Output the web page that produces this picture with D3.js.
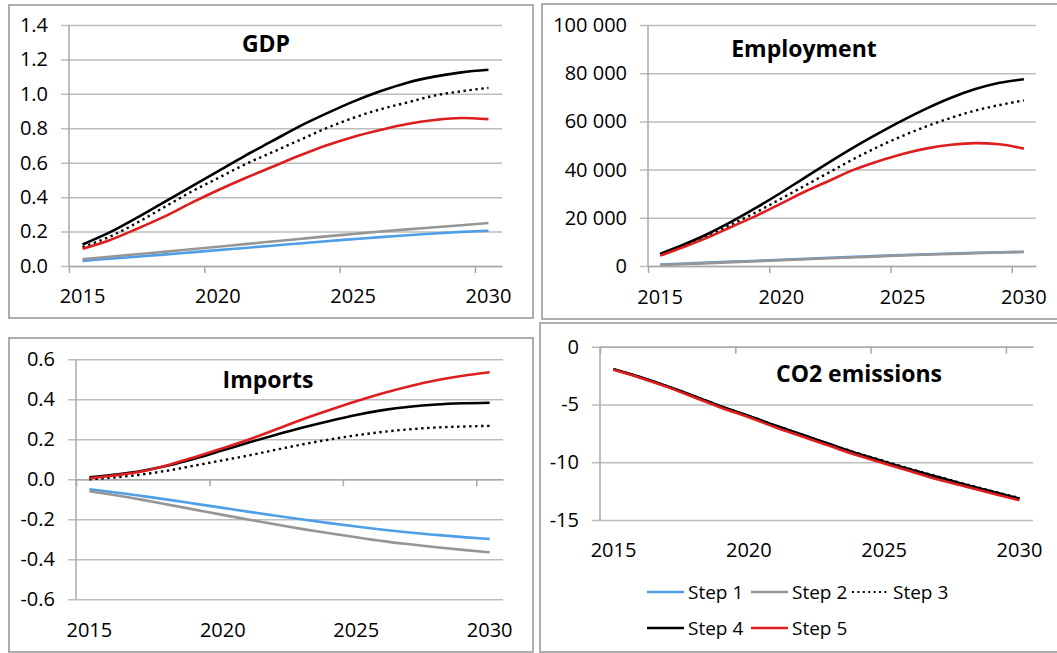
<!DOCTYPE html>
<html>
<head>
<meta charset="utf-8">
<script src="https://cdn.jsdelivr.net/npm/d3@7"></script>
<style>
  body { margin: 0; background: #fff; }
  svg { display: block; font-family: "Open Sans", sans-serif; }
</style>
</head>
<body>
<svg id="chart" width="1057" height="653"></svg>
<script>
'use strict';

// Categories and labels.
const years = [2015, 2016, 2017, 2018, 2019, 2020, 2021, 2022, 2023, 2024, 2025, 2026, 2027, 2028, 2029, 2030];
const labelYears = [2015, 2020, 2025, 2030];
const stepNames = ['Step 1', 'Step 2', 'Step 3', 'Step 4', 'Step 5'];

// GDP, one array per step.
const gdpStep1 = [0.03, 0.042, 0.054, 0.066, 0.079, 0.092, 0.105, 0.118, 0.131, 0.144, 0.156, 0.168, 0.179, 0.189, 0.198, 0.205];
const gdpStep2 = [0.04, 0.054, 0.068, 0.082, 0.097, 0.112, 0.127, 0.142, 0.157, 0.172, 0.186, 0.2, 0.213, 0.225, 0.237, 0.25];
const gdpStep3 = [0.11, 0.17, 0.25, 0.34, 0.43, 0.51, 0.59, 0.66, 0.73, 0.8, 0.86, 0.91, 0.95, 0.99, 1.015, 1.035];
const gdpStep4 = [0.125, 0.195, 0.28, 0.37, 0.46, 0.55, 0.64, 0.725, 0.81, 0.885, 0.955, 1.015, 1.065, 1.1, 1.125, 1.14];
const gdpStep5 = [0.1, 0.15, 0.215, 0.285, 0.365, 0.44, 0.51, 0.575, 0.64, 0.7, 0.75, 0.79, 0.825, 0.848, 0.86, 0.853];

// Employment.
const empStep1 = [600, 1000, 1400, 1800, 2200, 2600, 3000, 3400, 3800, 4200, 4550, 4900, 5200, 5500, 5700, 5900];
const empStep2 = [400, 800, 1200, 1600, 2000, 2400, 2800, 3200, 3600, 4000, 4400, 4700, 5000, 5300, 5600, 5800];
const empStep3 = [4800, 8500, 12500, 17500, 22500, 28000, 33500, 39000, 44500, 49500, 54000, 58000, 61500, 64500, 66800, 68700];
const empStep4 = [5000, 9000, 13500, 18700, 24400, 30500, 36900, 43200, 49300, 55000, 60400, 65400, 69800, 73400, 76000, 77500];
const empStep5 = [4300, 8000, 12000, 16500, 21000, 26000, 31000, 35500, 40000, 43500, 46500, 48800, 50300, 51000, 50500, 48700];

// Imports.
const impStep1 = [-0.05, -0.066, -0.084, -0.103, -0.123, -0.143, -0.163, -0.182, -0.201, -0.219, -0.236, -0.252, -0.266, -0.278, -0.289, -0.298];
const impStep2 = [-0.06, -0.08, -0.103, -0.128, -0.153, -0.178, -0.202, -0.226, -0.249, -0.27, -0.29, -0.309, -0.325, -0.34, -0.353, -0.365];
const impStep3 = [0, 0.01, 0.025, 0.045, 0.07, 0.095, 0.12, 0.148, 0.175, 0.199, 0.22, 0.237, 0.25, 0.259, 0.264, 0.267];
const impStep4 = [0.01, 0.024, 0.043, 0.07, 0.105, 0.145, 0.185, 0.223, 0.259, 0.292, 0.322, 0.346, 0.363, 0.374, 0.38, 0.383];
const impStep5 = [0.005, 0.02, 0.04, 0.073, 0.113, 0.155, 0.2, 0.25, 0.3, 0.346, 0.39, 0.43, 0.465, 0.495, 0.518, 0.535];

// CO2 emissions.
const co2Step1 = [-1.95, -2.65, -3.45, -4.3, -5.2, -6.0, -6.85, -7.65, -8.45, -9.25, -9.95, -10.65, -11.3, -11.95, -12.55, -13.15];
const co2Step2 = [-1.95, -2.65, -3.45, -4.3, -5.2, -6.0, -6.85, -7.65, -8.45, -9.25, -9.95, -10.65, -11.3, -11.95, -12.55, -13.15];
const co2Step3 = [-1.95, -2.65, -3.45, -4.3, -5.2, -6.0, -6.85, -7.65, -8.45, -9.2, -9.9, -10.6, -11.25, -11.9, -12.5, -13.1];
const co2Step4 = [-1.95, -2.65, -3.45, -4.3, -5.2, -6.0, -6.85, -7.65, -8.45, -9.25, -9.95, -10.65, -11.3, -11.95, -12.55, -13.15];
const co2Step5 = [-2.0, -2.7, -3.5, -4.4, -5.3, -6.1, -7.0, -7.8, -8.6, -9.4, -10.1, -10.8, -11.5, -12.1, -12.7, -13.3];

// Y tick values per panel.
const gdpTicks = [0, 0.2, 0.4, 0.6, 0.8, 1.0, 1.2, 1.4];
const empTicks = [0, 20000, 40000, 60000, 80000, 100000];
const impTicks = [-0.6, -0.4, -0.2, 0, 0.2, 0.4, 0.6];
const co2Ticks = [-15, -10, -5, 0];

// Line looks, one per step.
const stepStyles = [
  { color: '#4f9fe6', width: 2.6, dash: null },
  { color: '#969696', width: 2.6, dash: null },
  { color: '#000', width: 2.4, dash: '2.4 3.6' },
  { color: '#000', width: 2.6, dash: null },
  { color: '#dc1e1e', width: 2.6, dash: null },
];

const locale = d3.formatLocale({
  decimal: '.',
  thousands: '\u00a0',
  grouping: [3],
  currency: ['', ''],
  minus: '-',
});

const panels = [
  {
    title: 'GDP', series: [gdpStep1, gdpStep2, gdpStep3, gdpStep4, gdpStep5],
    ticks: gdpTicks, domain: [0, 1.4], fmt: locale.format('.1f'),
    frame: [9, 5, 533, 318], x: [69, 502], y: [266, 25],
    labelY: 303, titleX: 266, titleY: 52,
  },
  {
    title: 'Employment', series: [empStep1, empStep2, empStep3, empStep4, empStep5],
    ticks: empTicks, domain: [0, 100000], fmt: locale.format(','),
    frame: [542, 4, 1070, 319], x: [648, 1036], y: [266, 25],
    labelY: 304, titleX: 804, titleY: 57,
  },
  {
    title: 'Imports', series: [impStep1, impStep2, impStep3, impStep4, impStep5],
    ticks: impTicks, domain: [-0.6, 0.6], fmt: locale.format('.1f'),
    frame: [9, 338, 533, 652], x: [76, 503], y: [599.3, 359.3],
    labelY: 637, titleX: 268, titleY: 388,
  },
  {
    title: 'CO2 emissions', series: [co2Step1, co2Step2, co2Step3, co2Step4, co2Step5],
    ticks: co2Ticks, domain: [-15, 0], fmt: locale.format('d'),
    frame: [540, 323, 1070, 652], x: [600, 1033], y: [520, 346.7],
    labelY: 557, titleX: 859, titleY: 382,
  },
];

const svg = d3.select('#chart');
svg.append('rect').attr('width', 1057).attr('height', 653).attr('fill', '#fff');

panels.forEach(p => {
  const g = svg.append('g');
  const [fx0, fy0, fx1, fy1] = p.frame;
  g.append('rect')
    .attr('x', fx0).attr('y', fy0)
    .attr('width', fx1 - fx0).attr('height', fy1 - fy0)
    .attr('fill', '#fff').attr('stroke', '#9a9a9a').attr('stroke-width', 1.6);

  const x = d3.scaleBand().domain(years).range(p.x);
  // Edge scale for tick marks between categories.
  const xEdge = d3.scaleLinear().domain([2015, 2031]).range(p.x);
  const y = d3.scaleLinear().domain(p.domain).range(p.y);

  // Gridlines with y labels.
  const grid = g.append('g')
    .attr('transform', `translate(${p.x[1]},0)`)
    .call(d3.axisLeft(y).tickValues(p.ticks).tickFormat(p.fmt)
      .tickSizeInner(p.x[1] - p.x[0] + 8).tickSizeOuter(0).tickPadding(13));
  grid.select('.domain').remove();
  grid.selectAll('line').attr('stroke', '#bdbdbd').attr('stroke-width', 1.5);
  grid.selectAll('text').attr('font-size', 20).attr('fill', '#000')
    .attr('font-family', '"Open Sans", sans-serif');

  // Y axis line.
  g.append('line')
    .attr('x1', p.x[0]).attr('x2', p.x[0])
    .attr('y1', y(p.domain[1])).attr('y2', y(p.domain[0]))
    .attr('stroke', '#a8a8a8').attr('stroke-width', 1.5);

  // X axis line with tick marks at y = 0.
  const xa = g.append('g')
    .attr('transform', `translate(0,${y(0)})`)
    .call(d3.axisBottom(xEdge).tickValues(labelYears).tickFormat('')
      .tickSizeInner(7).tickSizeOuter(0));
  xa.select('.domain').attr('stroke', '#a8a8a8').attr('stroke-width', 1.5);
  xa.selectAll('line').attr('stroke', '#a8a8a8').attr('stroke-width', 1.5);

  // X labels at the bottom, centred on the category.
  const xl = g.append('g')
    .attr('transform', `translate(0,${p.labelY})`)
    .call(d3.axisBottom(x).tickValues(labelYears).tickSize(0).tickPadding(0));
  xl.select('.domain').remove();
  xl.selectAll('text').attr('dy', 0).attr('font-size', 20).attr('fill', '#000')
    .attr('font-family', '"Open Sans", sans-serif');

  // Series lines.
  const line = d3.line()
    .x((d, i) => x(years[i]) + x.bandwidth() / 2)
    .y(d => y(d))
    .curve(d3.curveMonotoneX);

  p.series.forEach((s, i) => {
    const st = stepStyles[i];
    g.append('path')
      .datum(s)
      .attr('d', line)
      .attr('fill', 'none')
      .attr('stroke', st.color)
      .attr('stroke-width', st.width)
      .attr('stroke-dasharray', st.dash)
      .attr('stroke-linejoin', 'round');
  });

  g.append('text')
    .attr('x', p.titleX).attr('y', p.titleY)
    .attr('text-anchor', 'middle')
    .attr('font-size', 23).attr('font-weight', 'bold').attr('fill', '#000')
    .text(p.title);
});

// Legend, two rows under the CO2 panel.
const legendSpots = [[647, 592], [751, 592], [852, 592], [647, 628], [751, 628]];
const legend = svg.append('g');
stepNames.forEach((name, i) => {
  const [lx, ly] = legendSpots[i];
  const st = stepStyles[i];
  legend.append('line')
    .attr('x1', lx).attr('x2', lx + 37).attr('y1', ly).attr('y2', ly)
    .attr('stroke', st.color).attr('stroke-width', i === 2 ? 2 : 2.4)
    .attr('stroke-dasharray', i === 2 ? '2 3.4' : null);
  legend.append('text')
    .attr('x', lx + 41).attr('y', ly + 7)
    .attr('font-size', 19).attr('fill', '#000')
    .text(name);
});
</script>
</body>
</html>
